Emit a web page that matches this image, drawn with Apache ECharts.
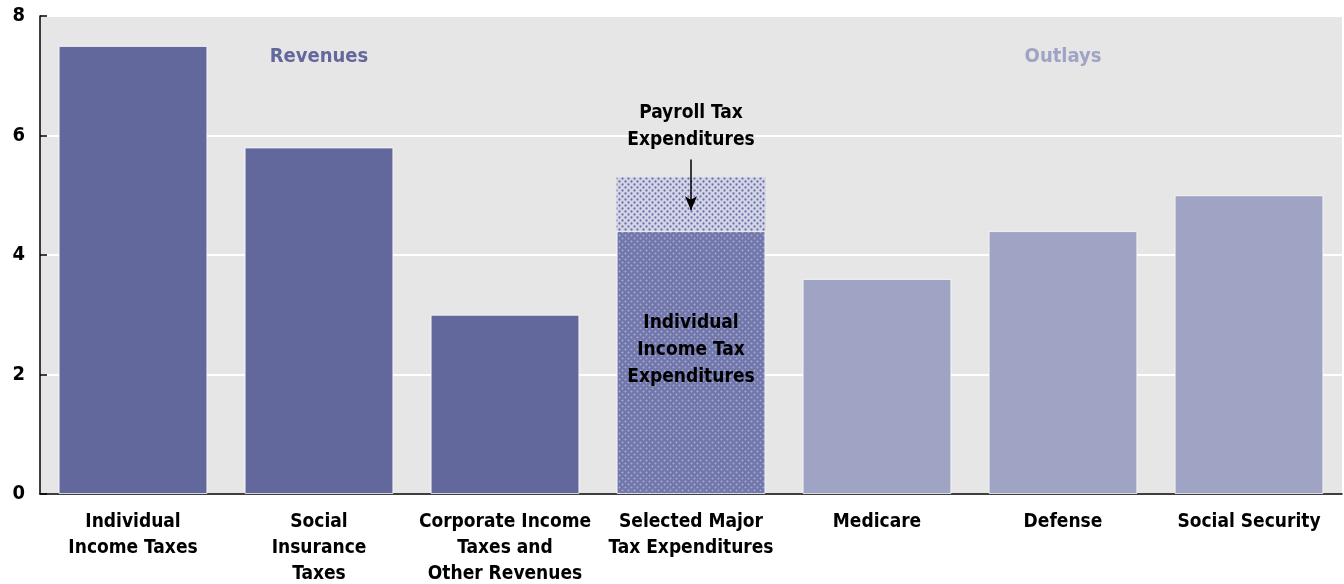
<!DOCTYPE html>
<html><head><meta charset="utf-8">
<script src="https://cdn.jsdelivr.net/npm/echarts@6/dist/echarts.min.js"></script>
<style>html,body{margin:0;padding:0;background:#fff}#c{width:1344px;height:584px}</style>
</head><body><div id="c"></div>
<script>
const categories = ['Individual\nIncome Taxes','Social\nInsurance\nTaxes','Corporate Income\nTaxes and\nOther Revenues','Selected Major\nTax Expenditures','Medicare','Defense','Social Security'];
const mainValues = [7.5, 5.8, 3.0, 4.4, 3.6, 4.4, 5.0];
const payrollValues = [null, null, null, 0.9, null, null, null];
const groups = ['rev','rev','rev','taxexp','out','out','out'];
const yTicks = [0, 2, 4, 6, 8];

const FONT = "'Liberation Sans Narrow','DejaVu Sans Condensed','Liberation Sans',sans-serif";

function pattern(bg, dot, size, r) {
  const c = document.createElement('canvas');
  c.width = size; c.height = size;
  const g = c.getContext('2d');
  g.fillStyle = bg; g.fillRect(0,0,size,size);
  g.fillStyle = dot;
  const h = size/2;
  g.beginPath(); g.arc(h/2, h/2, r, 0, Math.PI*2); g.fill();
  g.beginPath(); g.arc(h/2+h, h/2+h, r, 0, Math.PI*2); g.fill();
  return c;
}
const styles = {
  rev: {color:'#62689c'},
  out: {color:'#a0a4c4'},
  taxexp: {color:{image: pattern('#7176ab', '#a8acd4', 6, 1.0), repeat:'repeat'}}
};
const payrollStyle = {color:{image: pattern('#d4d6e8', '#6a70a8', 6, 1.15), repeat:'repeat'}};

const chart = echarts.init(document.getElementById('c'));
chart.setOption({
  animation:false,
  backgroundColor:'#fff',
  grid:{left:40, right:2, top:16, bottom:90, show:true, backgroundColor:'#e6e6e6', borderWidth:0, containLabel:false, outerBoundsMode:'none'},
  xAxis:{type:'category', data:categories,
    axisLine:{lineStyle:{color:'#000', width:1.5}}, axisTick:{show:false},
    axisLabel:{fontFamily:FONT, fontWeight:'bold', fontSize:19, color:'#000', lineHeight:26, margin:15, interval:0}},
  yAxis:{type:'value', min:yTicks[0], max:yTicks[yTicks.length-1], interval:2,
    axisLine:{show:true, lineStyle:{color:'#000', width:1.5}},
    axisTick:{show:true, inside:true, length:7, lineStyle:{color:'#000', width:1.5}},
    axisLabel:{fontFamily:FONT, fontWeight:'bold', fontSize:20, color:'#000', margin:15},
    splitLine:{lineStyle:{color:'#ffffff', width:2}}},
  series:[
    {type:'bar', stack:'s', barWidth:'80%',
     data: mainValues.map((v,i)=>({value:v, itemStyle:Object.assign({borderColor:'rgba(255,255,255,0.75)', borderWidth:1}, styles[groups[i]]),
        label: groups[i]==='taxexp' ? {show:true, position:'insideTop', distance:78, formatter:'Individual\nIncome Tax\nExpenditures', fontFamily:FONT, fontWeight:'bold', fontSize:19, lineHeight:27, color:'#000'} : {show:false}})),
     markPoint:{symbol:'circle', symbolSize:0, silent:true,
       data:[
         {coord:[1, 7.32], label:{show:true, position:'inside', formatter:'Revenues', fontFamily:FONT, fontWeight:'bold', fontSize:20, color:'#62689c'}},
         {coord:[5, 7.32], label:{show:true, position:'inside', formatter:'Outlays', fontFamily:FONT, fontWeight:'bold', fontSize:20, color:'#a0a4c4'}}
       ]}
    },
    {type:'bar', stack:'s', barWidth:'80%',
     data: payrollValues.map(v=> v==null ? null : {value:v, itemStyle:payrollStyle}),
     label:{show:true, position:'top', distance:24, formatter:'Payroll Tax\nExpenditures', fontFamily:FONT, fontWeight:'bold', fontSize:19, lineHeight:27, color:'#000'},
     markLine:{silent:true, symbol:['none','arrow'], symbolSize:[9,14], label:{show:false},
       lineStyle:{color:'#000', width:1.5, type:'solid'},
       data:[[{coord:[3, 5.6]},{coord:[3, 4.75]}]]}
    }
  ]
});
</script></body></html>
